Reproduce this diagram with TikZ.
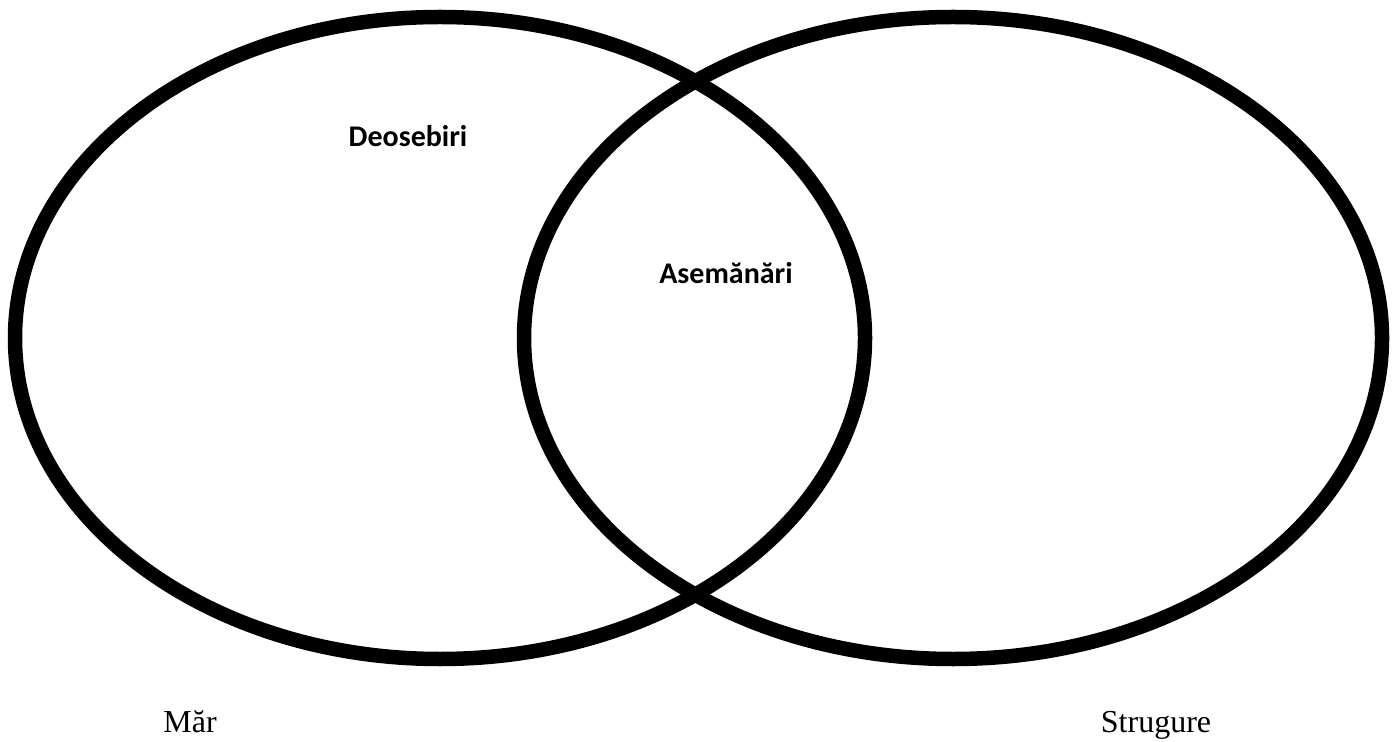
\documentclass[tikz,border=0pt]{standalone}
\usepackage{fontspec}
\setmainfont{Liberation Serif}
\newfontfamily\headfont{Carlito}
\usetikzlibrary{positioning}

\begin{document}
\begin{tikzpicture}[x=0.5pt, y=-0.5pt, every node/.style={inner sep=0pt, anchor=base}]

      \useasboundingbox (0,0) rectangle (1400,742);

      \def\rx{212.5pt} % half width of one ellipse
      \def\ry{160.5pt} % half height of one ellipse

      \coordinate (mar) at (440, 338);
      \coordinate (strugure) at (953, 338);

      \draw[line width=7.25pt] (mar) ellipse [x radius=\rx, y radius=\ry];
      \draw[line width=7.25pt] (strugure) ellipse [x radius=\rx+2pt, y radius=\ry];

      \node[font=\headfont\bfseries\fontsize{15}{18}\selectfont] (deosebiri) at (408, 147) {Deosebiri};
      \node[font=\headfont\bfseries\fontsize{15}{18}\selectfont] (asemanari) at (726, 284) {Asemănări};

      \node[font=\fontsize{16}{19}\selectfont] (marlabel) at (190, 732) {Măr};
      \node[font=\fontsize{16}{19}\selectfont] (struglabel) at (1156, 732) {Strugure};

    \end{tikzpicture}
\end{document}
